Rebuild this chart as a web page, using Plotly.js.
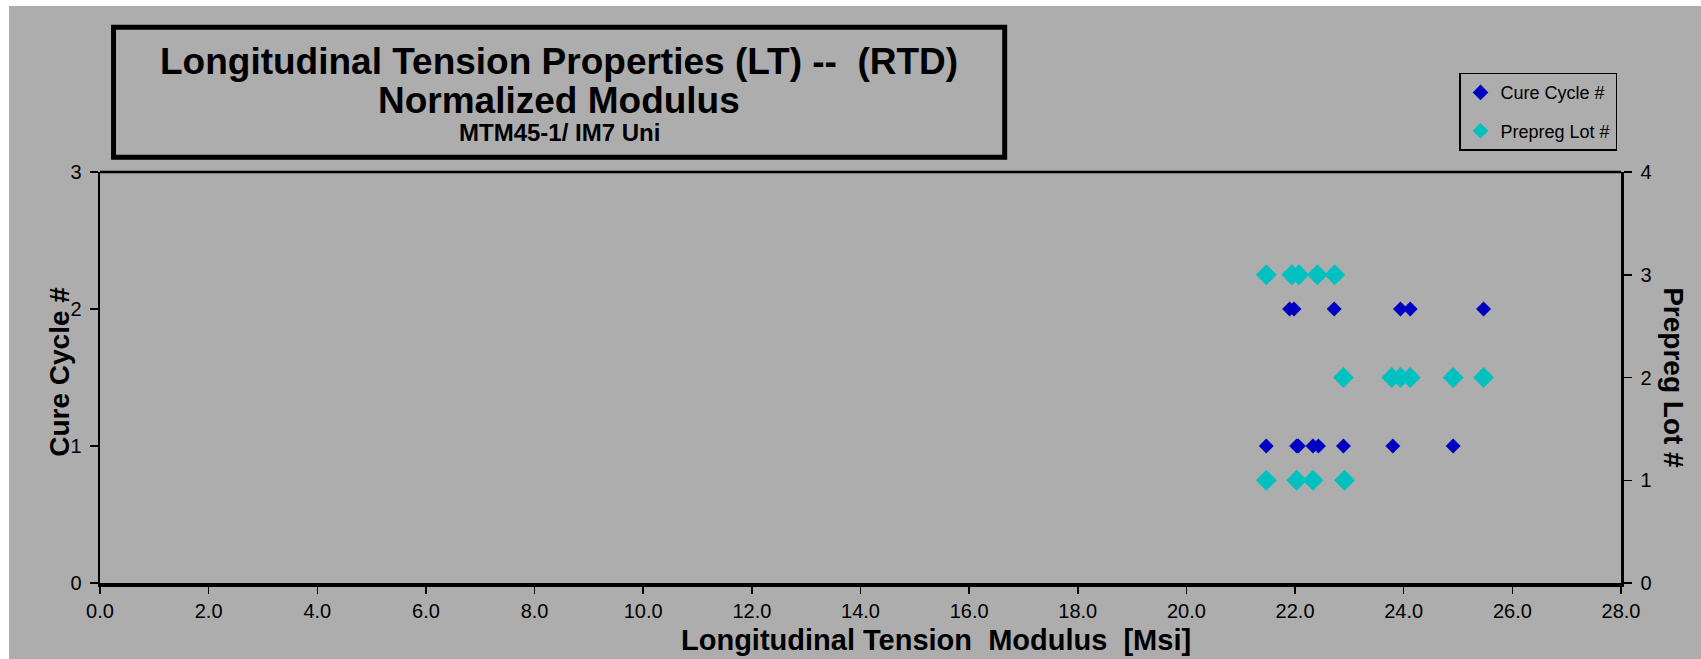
<!DOCTYPE html>
<html>
<head>
<meta charset="utf-8">
<script src="https://cdn.plot.ly/plotly-3.0.1.min.js"></script>
<style>
  html, body { margin: 0; padding: 0; background: #ffffff; width: 1701px; height: 659px; overflow: hidden; }
  #chart { position: absolute; left: 9px; top: 6px; width: 1692px; height: 653px; }
</style>
</head>
<body>
<div id="chart"></div>
<script>
// ---- Data ----
const cureCycleModulus = [21.90, 21.98, 22.72, 23.94, 24.12, 25.47,
                          21.47, 22.03, 22.06, 22.33, 22.43, 22.89, 23.80, 24.91];
const cureCycleNumber  = [2, 2, 2, 2, 2, 2,
                          1, 1, 1, 1, 1, 1, 1, 1];

const prepregLotModulus = [21.47, 21.94, 22.07, 22.41, 22.73,
                           22.89, 23.78, 23.94, 24.12, 24.91, 25.47,
                           21.47, 22.03, 22.33, 22.91];
const prepregLotNumber  = [3, 3, 3, 3, 3,
                           2, 2, 2, 2, 2, 2,
                           1, 1, 1, 1];

const xTickVals = [0, 2, 4, 6, 8, 10, 12, 14, 16, 18, 20, 22, 24, 26, 28];
const leftTickVals = [0, 1, 2, 3];
const rightTickVals = [0, 1, 2, 3, 4];

const titleLines = ["Longitudinal Tension Properties (LT) --&nbsp; (RTD)", "Normalized Modulus", "MTM45-1/ IM7 Uni"];
const xTitle = "Longitudinal Tension&nbsp; Modulus&nbsp; [Msi]";
const yLeftTitle = "Cure Cycle #";
const yRightTitle = "Prepreg Lot #";
const seriesNames = ["Cure Cycle #", "Prepreg Lot #"];

// ---- Styling ----
const FONT = "Arial, 'Liberation Sans', sans-serif";
const GRAY = "#ADADAD";

const traces = [
  {
    type: "scatter", mode: "markers", name: seriesNames[0],
    x: cureCycleModulus, y: cureCycleNumber, xaxis: "x", yaxis: "y",
    legendgroup: "a",
    marker: { symbol: "diamond", size: 11.5, color: "#0000C0", line: { width: 0 } }
  },
  {
    type: "scatter", mode: "markers", name: seriesNames[1],
    x: prepregLotModulus, y: prepregLotNumber, xaxis: "x", yaxis: "y2",
    legendgroup: "b",
    marker: { symbol: "diamond", size: 16, color: "#00C0C0", line: { width: 0 } }
  }
];

const tickFont = { family: FONT, size: 20, color: "#000000" };
const boldTitleFont = (s) => ({ family: FONT, size: s, color: "#000000", weight: "bold" });

const layout = {
  width: 1692, height: 653,
  margin: { l: 91, r: 80, t: 166, b: 76, pad: 0 },
  paper_bgcolor: GRAY, plot_bgcolor: GRAY,
  font: { family: FONT, color: "#000000" },
  showlegend: true,
  legend: {
    x: 0.8935, y: 1.2416, xanchor: "left", yanchor: "top",
    bgcolor: "rgba(0,0,0,0)", bordercolor: "#000000", borderwidth: 1.5,
    font: { family: FONT, size: 18, color: "#000000" },
    traceorder: "grouped", tracegroupgap: 12, itemwidth: 30, itemsizing: "constant"
  },
  xaxis: {
    range: [0, 28], tickvals: xTickVals, tickformat: ".1f",
    ticks: "outside", ticklen: 7, tickwidth: 1.5, tickcolor: "#000000",
    ticklabelstandoff: 0,
    showline: true, linewidth: 3.5, linecolor: "#000000",
    showgrid: false, zeroline: false, fixedrange: true,
    tickfont: tickFont
  },
  xaxis2: {
    overlaying: "x", anchor: "y", side: "bottom",
    range: [0, 28], tickvals: xTickVals,
    ticks: "inside", ticklen: 5, tickwidth: 1.5, tickcolor: "#000000",
    showticklabels: false, showline: false, showgrid: false, zeroline: false
  },
  yaxis: {
    range: [0, 3], tickvals: leftTickVals,
    ticks: "outside", ticklen: 8, tickwidth: 1.5, tickcolor: "#000000",
    ticklabelstandoff: 4,
    showline: true, linewidth: 2.5, linecolor: "#000000",
    showgrid: false, zeroline: false,
    tickfont: tickFont
  },
  yaxis2: {
    overlaying: "y", side: "right", anchor: "x",
    range: [0, 4], tickvals: rightTickVals,
    ticks: "outside", ticklen: 8, tickwidth: 1.5, tickcolor: "#000000",
    ticklabelstandoff: 5,
    showline: true, linewidth: 2.5, linecolor: "#000000",
    showgrid: false, zeroline: false,
    tickfont: tickFont
  },
  yaxis3: {
    overlaying: "y", side: "left", anchor: "x",
    range: [0, 3], tickvals: leftTickVals,
    ticks: "inside", ticklen: 6, tickwidth: 1.5, tickcolor: "#000000",
    showticklabels: false, showline: false, showgrid: false, zeroline: false
  },
  yaxis4: {
    overlaying: "y", side: "right", anchor: "x",
    range: [0, 4], tickvals: rightTickVals,
    ticks: "inside", ticklen: 6, tickwidth: 1.5, tickcolor: "#000000",
    showticklabels: false, showline: false, showgrid: false, zeroline: false
  },
  shapes: [
    // top frame line of the plot area
    { type: "line", xref: "paper", yref: "paper", x0: 0, x1: 1, y0: 1, y1: 1,
      line: { color: "#000000", width: 2.5 } },
    // title box
    { type: "rect", xref: "paper", yref: "paper", x0: 0.0089, x1: 0.5948, y0: 1.036, y1: 1.3523,
      line: { color: "#000000", width: 5 }, fillcolor: "rgba(0,0,0,0)" }
  ],
  annotations: [
    { xref: "paper", yref: "paper", x: 0.3018, y: 1.2684, xanchor: "center", yanchor: "middle",
      showarrow: false, text: titleLines[0], font: boldTitleFont(37) },
    { xref: "paper", yref: "paper", x: 0.3018, y: 1.1735, xanchor: "center", yanchor: "middle",
      showarrow: false, text: titleLines[1], font: boldTitleFont(37) },
    { xref: "paper", yref: "paper", x: 0.3018, y: 1.0956, xanchor: "center", yanchor: "middle",
      showarrow: false, text: titleLines[2], font: boldTitleFont(24) },
    // x-axis title
    { xref: "paper", yref: "paper", x: 0.5498, y: -0.1387, xanchor: "center", yanchor: "middle",
      showarrow: false, text: xTitle, font: boldTitleFont(29) },
    // left y-axis title
    { xref: "paper", yref: "paper", x: -0.0263, y: 0.514, xanchor: "center", yanchor: "middle",
      showarrow: false, textangle: -90, text: yLeftTitle, font: boldTitleFont(28) },
    // right y-axis title
    { xref: "paper", yref: "paper", x: 1.0344, y: 0.5, xanchor: "center", yanchor: "middle",
      showarrow: false, textangle: 90, text: yRightTitle, font: boldTitleFont(28) }
  ]
};

Plotly.newPlot("chart", traces, layout, { displayModeBar: false, staticPlot: true });
</script>
</body>
</html>
